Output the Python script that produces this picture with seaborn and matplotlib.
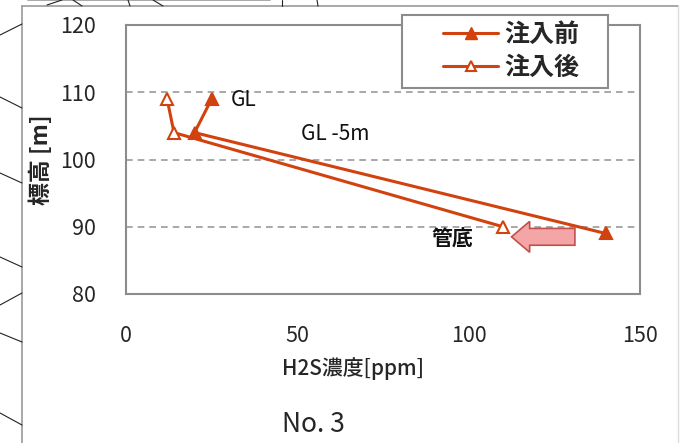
import matplotlib
matplotlib.use("Agg")
import matplotlib.pyplot as plt
from matplotlib.lines import Line2D
from matplotlib.patches import FancyArrow, Rectangle
import pandas as pd
import seaborn as sns

# データ
series_names = ["注入前", "注入後"]
h2s_before = [25, 20, 140]
elev_before = [109, 104, 89]
h2s_after = [12, 14, 110]
elev_after = [109, 104, 90]

x_ticks = [0, 50, 100, 150]
y_ticks = [80, 90, 100, 110, 120]

labels = ["GL", "GL -5m", "管底"]
label_x = [30.5, 51, 89]
label_y = [108.8, 103.8, 88.2]

arrow_tail = (131, 88.5)
arrow_len = 18.5

line_color = "#D2420F"
frame_gray = "#8C8C8C"

sns.set_theme(style="white")
plt.rcParams["font.family"] = ["Noto Sans CJK JP", "DejaVu Sans"]

df = pd.concat([
    pd.DataFrame({"x": h2s_before, "y": elev_before, "s": series_names[0]}),
    pd.DataFrame({"x": h2s_after, "y": elev_after, "s": series_names[1]}),
])

fig = plt.figure(figsize=(6.82, 4.43), dpi=100)
ax = fig.add_axes([126 / 682, 1 - 294 / 443, 514 / 682, 269 / 443])

for name, face in zip(series_names, [line_color, "white"]):
    sub = df[df["s"] == name]
    sns.lineplot(data=sub, x="x", y="y", sort=False, estimator=None, ax=ax,
                 color=line_color, linewidth=2.2, marker="^", markersize=8,
                 markerfacecolor=face, markeredgecolor=line_color,
                 markeredgewidth=1.5, legend=False)

ax.set_xlim(0, 150)
ax.set_ylim(80, 120)
ax.set_xticks(x_ticks)
ax.set_yticks(y_ticks)
for y in [90, 100, 110]:
    ax.axhline(y, color="#9A9A9A", linestyle=(0, (4, 3)), linewidth=1.2, zorder=0)

for sp in ax.spines.values():
    sp.set_color(frame_gray)
    sp.set_linewidth(1.5)

ax.tick_params(axis="x", direction="in", length=5, width=1, color=frame_gray,
               pad=22, labelsize=15.5)
ax.tick_params(axis="y", direction="in", length=0, pad=22, labelsize=15.5)

ax.set_ylabel("標高 [m]", fontsize=16.5, fontweight="bold", labelpad=5)
ax.set_xlabel("H2S濃度[ppm]", fontsize=15, fontweight="medium")
ax.xaxis.set_label_coords(0.442, -0.235)

for t, lx, ly in zip(labels, label_x, label_y):
    ax.text(lx, ly, t, fontsize=15, fontweight="bold" if t == "管底" else "normal",
            ha="left", va="center", color="#111111")

ax.add_patch(FancyArrow(arrow_tail[0], arrow_tail[1], -arrow_len, 0,
                        width=2.5, head_width=4.6, head_length=5.3,
                        length_includes_head=True, facecolor="#F4A6A6",
                        edgecolor="#C0504D", linewidth=1.2, zorder=4))

# 凡例
ax.add_patch(Rectangle((0.537, 0.766), 0.4, 0.271, transform=ax.transAxes,
                       facecolor="white", edgecolor=frame_gray, linewidth=1.5,
                       clip_on=False, zorder=5))
handles = [
    Line2D([], [], color=line_color, lw=2.2, marker="^", markersize=8,
           markerfacecolor=line_color, markeredgecolor=line_color),
    Line2D([], [], color=line_color, lw=2.2, marker="^", markersize=7,
           markerfacecolor="white", markeredgecolor=line_color, markeredgewidth=1.5),
]
leg = ax.legend(handles, series_names, loc="center left",
                bbox_to_anchor=(0.617, 0.9015), frameon=False,
                handlelength=2.2, borderpad=0, borderaxespad=0,
                labelspacing=0.35, handletextpad=0.25,
                prop={"size": 18, "weight": "bold"})
leg.set_zorder(6)

fig.text(313 / 682, 1 - 424 / 443, "No. 3", fontsize=19, ha="center", va="center")

# 背景の枠線
W, H = 682, 443
def fline(x0, y0, x1, y1, color="#222222", lw=0.8):
    fig.add_artist(Line2D([x0 / W, x1 / W], [1 - y0 / H, 1 - y1 / H],
                          color=color, lw=lw, transform=fig.transFigure))

fline(22, 6, 678, 6, color="#999999", lw=1.2)
fline(22, 6, 22, 443, color="#999999", lw=1.2)
fline(678, 6, 678, 443, color="#DDDDDD", lw=1.0)
fline(28, 0, 270, 0, color="#999999", lw=1.2)
for seg in [(0, 35, 22, 24), (0, 97, 22, 108), (0, 173, 22, 183),
            (0, 257, 22, 267), (0, 305, 22, 293), (0, 333, 22, 342),
            (0, 413, 22, 425), (47, 5, 62, 0), (73, 0, 82, 6),
            (128, 0, 130, 6), (153, 0, 163, 6), (282, 0, 282, 6),
            (317, 0, 318, 6)]:
    fline(*seg)

fig.savefig("out.png", dpi=100)
